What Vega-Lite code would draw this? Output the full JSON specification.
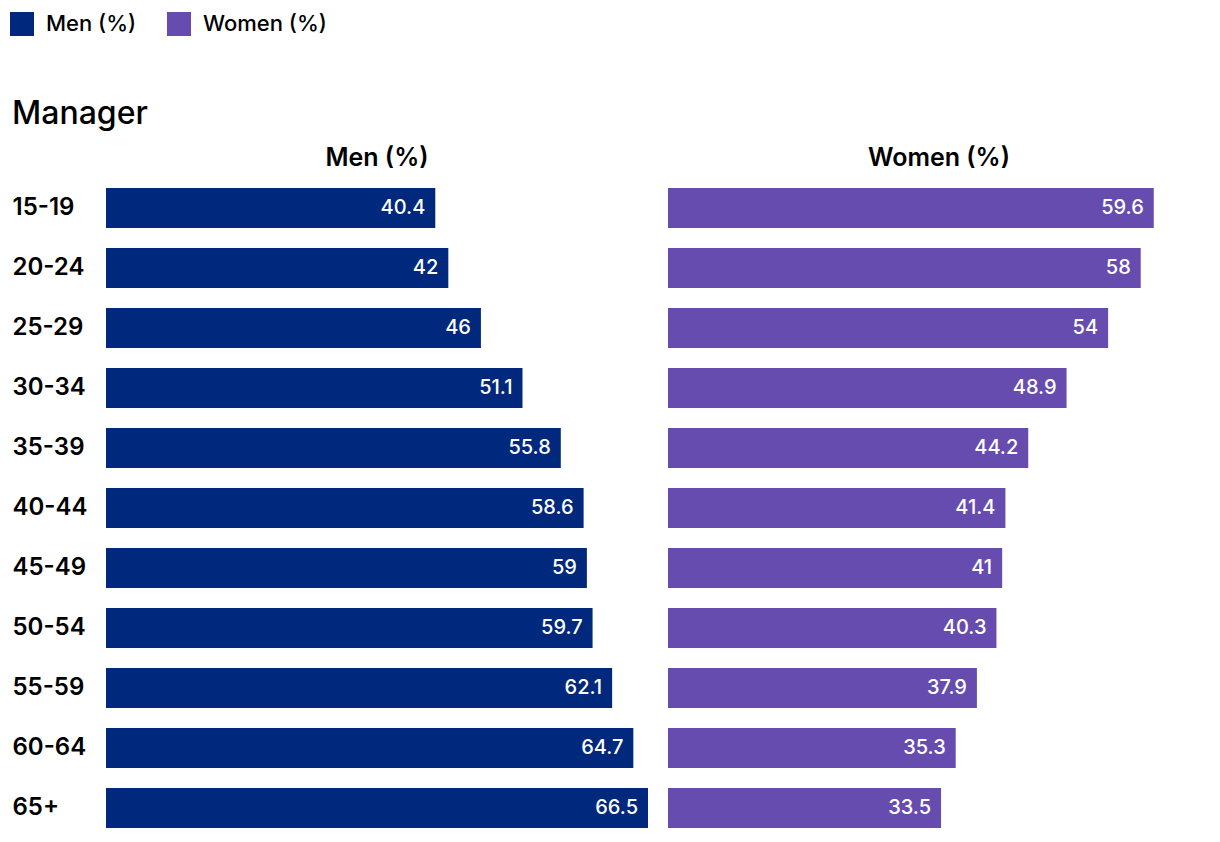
{
  "$schema": "https://vega.github.io/schema/vega-lite/v6.json",
  "background": "white",
  "padding": {"left": 10, "top": 12, "right": 10, "bottom": 4},
  "config": {
    "view": {"stroke": null},
    "font": "Inter",
    "concat": {"spacing": 0}
  },
  "data": {
    "values": [
      {"age": "15-19", "sex": "Men (%)", "value": 40.4},
      {"age": "20-24", "sex": "Men (%)", "value": 42},
      {"age": "25-29", "sex": "Men (%)", "value": 46},
      {"age": "30-34", "sex": "Men (%)", "value": 51.1},
      {"age": "35-39", "sex": "Men (%)", "value": 55.8},
      {"age": "40-44", "sex": "Men (%)", "value": 58.6},
      {"age": "45-49", "sex": "Men (%)", "value": 59},
      {"age": "50-54", "sex": "Men (%)", "value": 59.7},
      {"age": "55-59", "sex": "Men (%)", "value": 62.1},
      {"age": "60-64", "sex": "Men (%)", "value": 64.7},
      {"age": "65+", "sex": "Men (%)", "value": 66.5},
      {"age": "15-19", "sex": "Women (%)", "value": 59.6},
      {"age": "20-24", "sex": "Women (%)", "value": 58},
      {"age": "25-29", "sex": "Women (%)", "value": 54},
      {"age": "30-34", "sex": "Women (%)", "value": 48.9},
      {"age": "35-39", "sex": "Women (%)", "value": 44.2},
      {"age": "40-44", "sex": "Women (%)", "value": 41.4},
      {"age": "45-49", "sex": "Women (%)", "value": 41},
      {"age": "50-54", "sex": "Women (%)", "value": 40.3},
      {"age": "55-59", "sex": "Women (%)", "value": 37.9},
      {"age": "60-64", "sex": "Women (%)", "value": 35.3},
      {"age": "65+", "sex": "Women (%)", "value": 33.5}
    ]
  },
  "vconcat": [
    {
      "title": {
        "text": "Manager",
        "anchor": "start",
        "fontSize": 32,
        "fontWeight": 500,
        "color": "#000000",
        "offset": 15
      },
      "facet": {
        "column": {
          "field": "sex",
          "type": "nominal",
          "sort": ["Men (%)", "Women (%)"],
          "header": {
            "title": null,
            "labelFontSize": 25,
            "labelFontWeight": 600,
            "labelColor": "#000000",
            "labelPadding": 7
          }
        }
      },
      "spacing": 20,
      "spec": {
        "width": 542,
        "height": 660,
        "encoding": {
          "y": {
            "field": "age",
            "type": "nominal",
            "sort": null,
            "scale": {"paddingInner": 0.3333, "paddingOuter": 0.1667},
            "axis": {
              "title": null,
              "domain": false,
              "ticks": false,
              "labelAlign": "left",
              "labelPadding": 94,
              "labelFontSize": 24,
              "labelFontWeight": 600,
              "labelColor": "#000000"
            }
          },
          "x": {
            "field": "value",
            "type": "quantitative",
            "scale": {"domain": [0, 66.5], "nice": false},
            "axis": null
          }
        },
        "layer": [
          {
            "mark": {"type": "bar"},
            "encoding": {
              "color": {
                "field": "sex",
                "type": "nominal",
                "scale": {"domain": ["Men (%)", "Women (%)"], "range": ["#00287c", "#674cb0"]},
                "legend": {
                  "title": null,
                  "orient": "none",
                  "legendX": -96,
                  "legendY": -166,
                  "direction": "horizontal",
                  "symbolType": "square",
                  "symbolSize": 576,
                  "symbolStrokeWidth": 0,
                  "symbolOpacity": 1,
                  "labelFontSize": 22,
                  "labelFontWeight": 500,
                  "labelColor": "#000000",
                  "labelOffset": 12,
                  "columnPadding": 30
                }
              }
            }
          },
          {
            "mark": {"type": "text", "align": "right", "dx": -10, "fontSize": 20, "fontWeight": 500, "color": "#ffffff"},
            "encoding": {
              "text": {"field": "value", "type": "quantitative"}
            }
          }
        ]
      }
    }
  ]
}
